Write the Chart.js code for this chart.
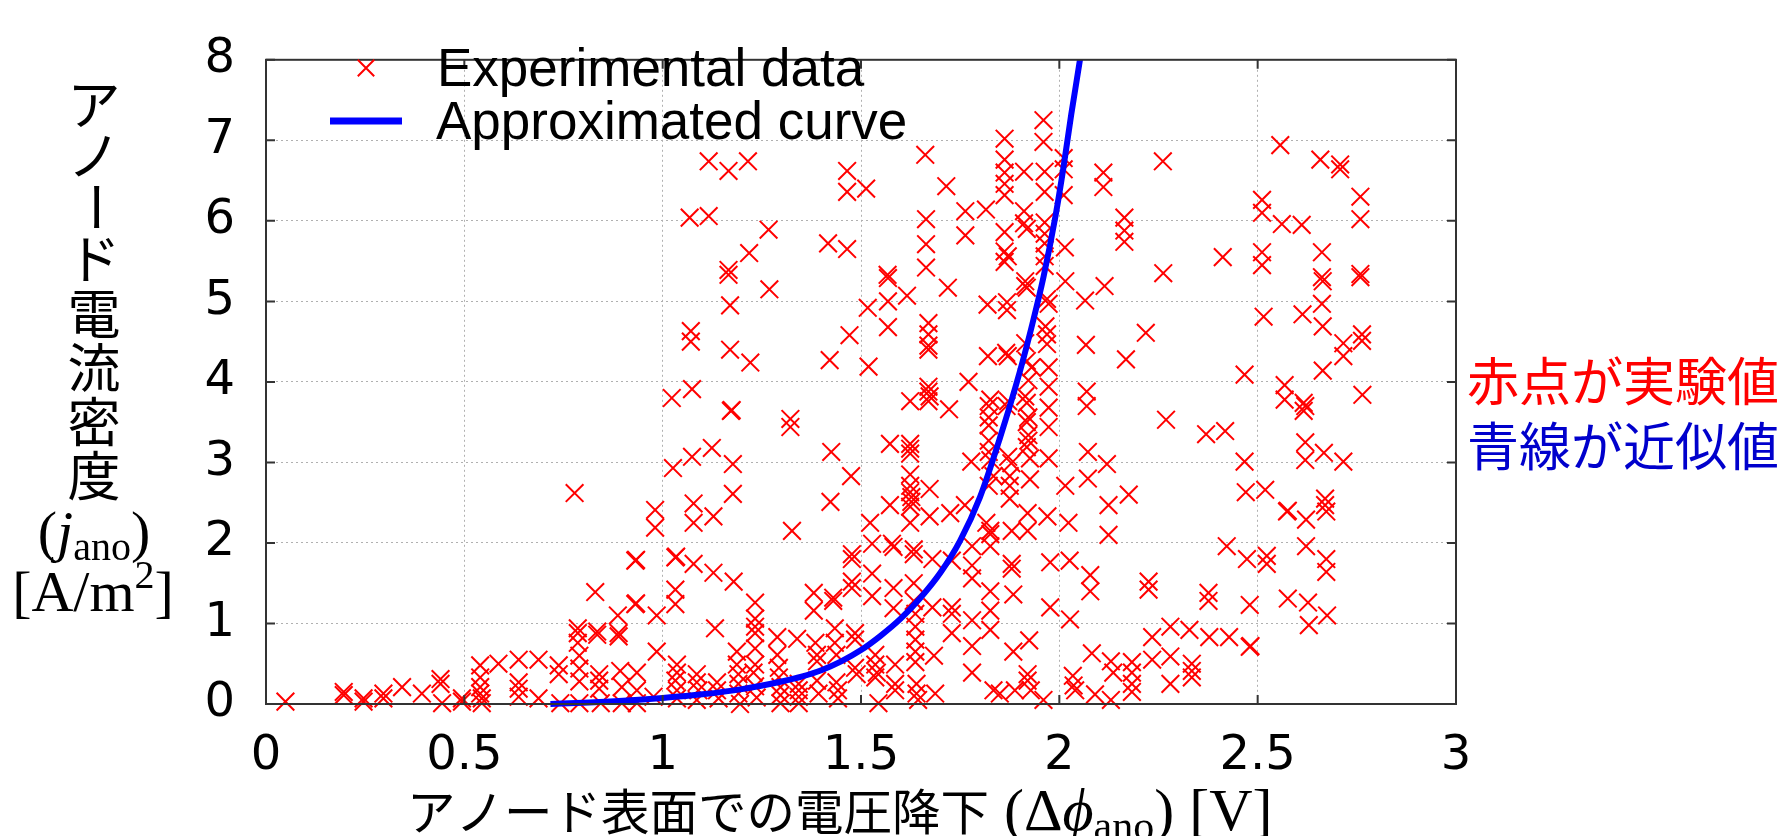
<!DOCTYPE html>
<html><head><meta charset="utf-8">
<script src="https://cdn.jsdelivr.net/npm/chart.js@4.4.1/dist/chart.umd.min.js"></script>
<style>html,body{margin:0;padding:0;background:#fff;overflow:hidden}canvas{display:block}</style>
</head><body>
<canvas id="c" width="1789" height="836"></canvas>
<script>
// ---------------- DATA ----------------
// Experimental data: [Δφ_ano (V), j_ano (A/m²)]
const expTop = [
 [1.116,6.74],[1.166,6.62],[1.215,6.74],[1.068,6.04],[1.116,6.06],[1.267,5.89],[1.218,5.60],[1.166,5.39],[1.166,5.33],
 [1.465,6.62],[1.465,6.36],[1.513,6.40],[1.417,5.72],[1.465,5.65],[1.567,5.33],
 [1.662,6.82],[1.664,6.02],[1.664,5.71],[1.664,5.42],[1.715,6.43],[1.763,6.12],[1.815,6.14],[1.763,5.82],
 [1.862,7.02],[1.862,6.76],[1.862,6.60],[1.862,6.46],[1.862,6.32],
 [1.911,6.61],[1.963,6.61],[1.963,6.36],[1.911,6.12],[1.911,5.97],[1.918,5.90],
 [1.862,5.86],[1.862,5.62],[1.870,5.56],[1.862,5.49],
 [1.963,5.98],[1.963,5.84],[1.963,5.72],[1.963,5.56],[1.963,5.44],[1.960,7.25],[1.960,6.98],
 [2.011,6.78],[2.011,6.64],[2.011,6.32],[2.111,6.60],[2.111,6.42],[2.261,6.74],[2.164,6.04],[2.164,5.88],[2.164,5.74],
 [2.014,5.67],[2.412,5.55],[2.262,5.35],[2.557,6.94],[2.658,6.76],[2.708,6.70],[2.708,6.64],[2.759,6.30],[2.759,6.02],
 [2.511,6.26],[2.511,6.10],[2.561,5.96],[2.611,5.95],[2.511,5.61],[2.511,5.45],[2.662,5.61],[2.662,5.30],[2.759,5.34],[2.759,5.30]
];
const expUpper = [
 [1.269,5.15],[1.170,4.95],[1.071,4.63],[1.071,4.50],[1.170,4.40],[1.221,4.24],[1.023,3.80],[1.074,3.91],[1.172,3.64],[1.174,3.65],
 [1.322,3.54],[1.322,3.44],[1.124,3.18],[1.074,3.07],[1.026,2.93],[1.177,2.98],[1.177,2.61],[1.078,2.49],[1.425,3.13],[1.475,2.83],
 [1.423,2.51],[1.471,4.58],[1.421,4.27],[1.517,4.92],[1.519,4.19],[1.568,5.29],[1.568,5.00],[1.568,4.68],[1.616,5.07],[1.719,5.17],
 [1.670,4.73],[1.670,4.59],[1.670,4.45],[1.670,4.40],[1.624,3.76],[1.670,3.94],[1.670,3.88],[1.673,3.82],[1.670,3.76],[1.722,3.66],
 [1.771,4.00],[1.573,3.23],[1.624,3.23],[1.624,3.17],[1.624,3.11],[1.624,2.85],[1.624,2.71],[1.624,2.63],[1.627,2.57],[1.627,2.51],
 [1.624,2.45],[1.673,2.67],[1.573,2.47],[1.778,3.01],[1.819,4.96],[1.868,4.99],[1.868,4.89],[1.914,5.25],[1.914,5.19],[1.918,5.17],
 [1.820,4.32],[1.866,4.36],[1.870,4.32],[1.914,4.48],[1.969,5.03],[1.973,4.97],[1.965,4.69],[1.969,4.59],[1.969,4.47],[1.973,4.18],
 [1.973,3.94],[1.973,3.68],[1.973,3.44],[1.973,3.05],[1.930,4.18],[1.918,4.26],[1.922,4.02],[1.914,3.82],[1.918,3.74],[1.922,3.56],
 [1.918,3.50],[1.922,3.34],[1.922,3.27],[1.918,3.19],[1.871,3.76],[1.867,3.70],[1.826,3.78],[1.822,3.70],[1.822,3.56],[1.822,3.46],
 [1.822,3.27],[1.822,3.13],[1.826,3.03],[1.871,3.07],[1.879,2.99],[1.875,2.83],[1.875,2.71],[1.875,2.55],[1.834,2.83],[1.822,2.71],
 [1.926,2.79],[1.926,3.05],[2.015,2.71],[2.015,5.25],
 [2.065,5.01],[2.114,5.19],[2.218,4.61],[2.067,4.46],[2.168,4.28],[2.069,3.88],[2.069,3.70],[2.269,3.53],[2.370,3.35],[2.418,3.39],
 [2.467,4.09],[2.515,4.81],[2.613,4.84],[2.664,5.25],[2.662,4.97],[2.664,4.69],[2.716,4.48],[2.716,4.32],[2.763,4.59],[2.763,4.51],
 [2.664,4.14],[2.568,3.96],[2.568,3.78],[2.616,3.74],[2.620,3.70],[2.616,3.64],[2.764,3.84],[2.620,3.25],[2.620,3.03],[2.667,3.12],
 [2.716,3.01],[2.467,3.01],[2.470,2.63],[2.519,2.66],[2.072,3.13],[2.120,2.98],[2.072,2.80],[2.175,2.60],[2.124,2.47],[2.670,2.55],[2.670,2.47]
];
const expRight = [
 [2.023,2.25],[2.124,2.10],[2.574,2.39],[2.576,2.40],[2.622,2.29],[2.673,2.39],[2.026,1.78],[2.078,1.60],[2.078,1.40],[2.225,1.52],
 [2.225,1.42],[2.422,1.96],[2.473,1.80],[2.523,1.84],[2.523,1.74],[2.622,1.96],[2.673,1.80],[2.673,1.64],[2.376,1.38],[2.376,1.28],
 [2.480,1.23],[2.576,1.31],[2.627,1.26],[2.675,1.10],[2.629,0.98],[2.027,1.05],[2.234,0.83],[2.280,0.96],[2.328,0.92],[2.378,0.83],
 [2.428,0.83],[2.480,0.71],[2.482,0.72],[2.082,0.63],[2.130,0.53],[2.136,0.39],[2.183,0.52],[2.183,0.39],[2.183,0.25],[2.183,0.15],
 [2.234,0.55],[2.280,0.59],[2.334,0.50],[2.334,0.41],[2.334,0.33],[2.280,0.25],[2.034,0.35],[2.036,0.23],[2.040,0.17],[2.090,0.12],[2.130,0.05]
];
const expCentre = [
 [1.078,2.25],[0.981,2.41],[0.981,2.19],[1.128,2.33],[1.326,2.15],[1.624,2.25],[1.673,2.33],[1.725,2.37],[1.762,2.47],[1.816,2.25],
 [1.826,2.15],[1.920,2.37],[1.920,2.15],[1.970,2.33],[1.523,2.25],
 [1.032,1.82],[1.034,1.83],[1.078,1.74],[1.128,1.63],[1.179,1.52],[1.032,1.42],[1.032,1.24],[1.132,0.94],[1.233,1.26],[1.233,1.06],
 [1.233,0.96],[1.233,0.88],[1.477,1.86],[1.477,1.80],[1.477,1.52],[1.477,1.44],[1.381,1.38],[1.381,1.16],[1.430,1.32],[1.430,1.28],
 [1.528,1.99],[1.528,1.62],[1.528,1.34],[1.578,1.99],[1.582,1.95],[1.582,1.44],[1.582,1.19],
 [1.633,1.92],[1.633,1.86],[1.633,1.50],[1.633,1.28],[1.637,1.12],[1.637,0.96],[1.637,0.80],[1.637,0.65],[1.637,0.52],
 [1.680,1.80],[1.680,1.20],[1.684,0.60],[1.729,1.78],[1.729,1.20],[1.729,1.12],[1.729,0.88],
 [1.780,1.96],[1.780,1.72],[1.780,1.56],[1.780,1.04],[1.780,0.72],[1.780,0.39],
 [1.826,2.11],[1.826,1.96],[1.826,1.40],[1.826,1.16],[1.826,0.92],[1.834,0.17],
 [1.880,2.15],[1.880,1.74],[1.880,1.68],[1.884,1.36],[1.884,0.65],[1.888,0.17],
 [1.924,0.79],[1.920,0.37],[1.920,0.29],[1.928,0.17],[1.977,1.76],[1.977,1.20],[1.960,0.05],
 [0.985,0.65],[0.985,1.10],
 [1.036,0.49],[1.036,0.39],[1.032,0.29],[1.036,0.17],[1.036,0.07],
 [1.086,0.37],[1.086,0.27],[1.090,0.17],[1.086,0.05],
 [1.137,0.27],[1.137,0.17],[1.141,0.07],
 [1.187,0.65],[1.187,0.49],[1.191,0.37],[1.191,0.25],[1.191,0.13],[1.195,0.00],
 [1.233,0.69],[1.233,0.49],[1.229,0.39],[1.233,0.22],[1.237,0.08],
 [1.289,0.83],[1.289,0.61],[1.293,0.45],[1.293,0.33],[1.297,0.21],[1.297,0.11],[1.297,0.01],
 [1.339,0.81],[1.343,0.25],[1.343,0.17],[1.343,0.09],[1.343,0.01],
 [1.385,0.76],[1.389,0.61],[1.389,0.53],[1.389,0.29],[1.393,0.13],
 [1.434,0.94],[1.434,0.76],[1.438,0.61],[1.438,0.27],[1.442,0.17],[1.442,0.07],
 [1.485,0.88],[1.485,0.80],[1.485,0.45],[1.489,0.37],
 [1.536,0.61],[1.536,0.49],[1.540,0.39],[1.544,0.01],[1.536,0.33],
 [1.586,0.49],[1.586,0.25],[1.586,0.17],[1.640,0.25],[1.640,0.13],[1.644,0.05],[1.687,0.13],[1.850,0.13]
];
const expLeft = [
 [0.049,0.03],[0.196,0.15],[0.196,0.11],[0.246,0.07],[0.246,0.03],[0.296,0.13],[0.296,0.07],[0.343,0.21],[0.393,0.13],[0.440,0.31],
 [0.440,0.25],[0.444,0.01],[0.494,0.07],[0.494,0.03],[0.540,0.48],[0.540,0.33],[0.540,0.21],[0.540,0.13],[0.544,0.07],[0.544,0.01],
 [0.586,0.50],[0.637,0.55],[0.687,0.55],[0.637,0.27],[0.637,0.19],[0.637,0.09],[0.687,0.07],[0.738,0.48],[0.738,0.37],[0.742,0.01],
 [0.786,0.94],[0.786,0.88],[0.786,0.76],[0.790,0.60],[0.790,0.44],[0.790,0.28],[0.790,0.01],[0.835,0.90],[0.835,0.86],[0.840,0.37],
 [0.840,0.29],[0.840,0.19],[0.844,0.01],[0.889,0.88],[0.889,0.84],[0.893,0.41],[0.897,0.21],[0.897,0.01],[0.830,1.39],[0.887,1.10],
 [0.931,1.78],[0.933,1.79],[0.931,1.24],[0.933,1.25],[0.935,0.39],[0.935,0.17],[0.935,0.01],[0.977,0.09],[0.778,2.62]
];
// Approximated curve
const curvePhi = [0.717,0.80,0.90,1.00,1.10,1.20,1.30,1.35,1.40,1.45,1.50,1.55,1.60,1.65,1.70,1.75,1.80,1.85,1.90,1.93,1.96,1.99,2.01,2.03,2.052,2.065];
const curveJ   = [0.000,0.015,0.040,0.075,0.120,0.185,0.280,0.340,0.420,0.530,0.670,0.850,1.060,1.320,1.630,2.030,2.570,3.300,4.120,4.680,5.300,6.050,6.650,7.320,8.000,8.450];
// Axes
const xTickValues = [0,0.5,1,1.5,2,2.5,3];
const xTickLabels = ['0','0.5','1','1.5','2','2.5','3'];
const yTickValues = [0,1,2,3,4,5,6,7,8];
const yTickLabels = ['0','1','2','3','4','5','6','7','8'];
const legendLabels = ['Experimental data','Approximated curve'];
const xTitleJa = 'アノード表面での電圧降下';
const yTitleChars = ['ア','ノ','ー','ド','電','流','密','度'];
const noteLines = ['赤点が実験値','青線が近似値'];

// ---------------- CHART ----------------
const expAll = [].concat(expTop, expUpper, expRight, expCentre, expLeft).map(p=>({x:p[0],y:p[1]}));
const curveData = curvePhi.map((x,i)=>({x:x,y:curveJ[i]}));
const RED='#ff0000', BLUE='#0000ff', NOTEBLUE='#0000cc';
const SANS='"Liberation Sans", Arial, sans-serif';
const TICKF='"DejaVu Sans", sans-serif';
const SERIF='"Liberation Serif", "DejaVu Serif", serif';
const CJK='"Noto Sans CJK JP", sans-serif';

function segs(ctx, list, x, y, align){
  let w=0; list.forEach(s=>{ctx.font=s.f; w+=ctx.measureText(s.t).width;});
  let cx = align==='center' ? x-w/2 : x;
  ctx.textAlign='left';
  list.forEach(s=>{ctx.font=s.f; ctx.fillText(s.t, cx, y+(s.dy||0)); cx+=ctx.measureText(s.t).width;});
  return cx;
}

const deco = {
  id:'deco',
  afterDatasetsDraw(chart){
    const {ctx, chartArea:a, scales:{x,y}} = chart;
    ctx.save();
    ctx.strokeStyle='#333'; ctx.lineWidth=2;
    ctx.strokeRect(a.left, a.top, a.right-a.left, a.bottom-a.top);
    ctx.beginPath();
    xTickValues.forEach(v=>{const p=x.getPixelForValue(v); ctx.moveTo(p,a.bottom); ctx.lineTo(p,a.bottom-9); ctx.moveTo(p,a.top); ctx.lineTo(p,a.top+9);});
    yTickValues.forEach(v=>{const p=y.getPixelForValue(v); ctx.moveTo(a.left,p); ctx.lineTo(a.left+9,p); ctx.moveTo(a.right,p); ctx.lineTo(a.right-9,p);});
    ctx.stroke();
    ctx.restore();
  },
  afterDraw(chart){
    const ctx = chart.ctx;
    ctx.save();
    // legend
    ctx.strokeStyle=RED; ctx.lineWidth=2;
    const lx=366, ly=68, o=8.2;
    ctx.beginPath(); ctx.moveTo(lx-o,ly-o); ctx.lineTo(lx+o,ly+o); ctx.moveTo(lx+o,ly-o); ctx.lineTo(lx-o,ly+o); ctx.stroke();
    ctx.strokeStyle=BLUE; ctx.lineWidth=7;
    ctx.beginPath(); ctx.moveTo(330,121); ctx.lineTo(402,121); ctx.stroke();
    ctx.fillStyle='#000'; ctx.font='53px '+SANS; ctx.textAlign='left'; ctx.textBaseline='alphabetic';
    ctx.fillText(legendLabels[0], 437, 86);
    ctx.fillText(legendLabels[1], 436, 139);
    // y title (vertical)
    ctx.font='53px '+CJK; ctx.textAlign='center'; ctx.textBaseline='middle';
    const yPos=[105,156,207,259,314,368,422,476];
    yTitleChars.forEach((c,i)=>{
      if(c==='ー'){ ctx.save(); ctx.translate(96,yPos[i]); ctx.rotate(Math.PI/2); ctx.fillText(c,0,0); ctx.restore(); }
      else ctx.fillText(c,94,yPos[i]);
    });
    ctx.textBaseline='alphabetic';
    segs(ctx,[{t:'(',f:'58px '+SERIF},{t:'j',f:'italic 58px '+SERIF},{t:'ano',f:'40px '+SERIF,dy:9},{t:')',f:'58px '+SERIF}],94,551,'center');
    segs(ctx,[{t:'[A/m',f:'58px '+SERIF},{t:'2',f:'40px '+SERIF,dy:-23},{t:']',f:'58px '+SERIF}],93,611,'center');
    // x title
    let cx = segs(ctx,[{t:xTitleJa,f:'48.5px '+CJK}],407,830,'left');
    segs(ctx,[{t:' (Δ',f:'60px '+SERIF},{t:'ϕ',f:'italic 60px '+SERIF},{t:'ano',f:'42px '+SERIF,dy:10},{t:') [V]',f:'60px '+SERIF}],cx,830,'left');
    // side notes
    ctx.font='52px '+CJK; ctx.textAlign='left';
    ctx.fillStyle=RED; ctx.fillText(noteLines[0],1467,401);
    ctx.fillStyle=NOTEBLUE; ctx.fillText(noteLines[1],1467,466);
    ctx.restore();
  }
};

new Chart(document.getElementById('c').getContext('2d'), {
  type:'scatter',
  data:{datasets:[
    {type:'line', label:legendLabels[1], data:curveData, borderColor:BLUE, borderWidth:6, pointRadius:0,
     fill:false, cubicInterpolationMode:'monotone', order:0, clip:{left:10,right:10,bottom:10,top:0}},
    {label:legendLabels[0], data:expAll, pointStyle:'crossRot', pointRadius:12.5, pointHoverRadius:12.5,
     borderColor:RED, backgroundColor:RED, pointBorderWidth:2, borderWidth:2, order:1, clip:false}
  ]},
  options:{
    responsive:false, animation:false, devicePixelRatio:1,
    layout:{padding:{left:0, top:32, right:333, bottom:0}},
    plugins:{legend:{display:false}, tooltip:{enabled:false}},
    scales:{
      x:{type:'linear', min:0, max:3,
         afterBuildTicks:s=>{s.ticks = xTickValues.map(v=>({value:v}));},
         ticks:{callback:(v,i)=>xTickLabels[i], font:{family:TICKF, size:48}, color:'#000', padding:24, maxRotation:0, autoSkip:false},
         grid:{color:'#b0b0b0', lineWidth:1, drawTicks:false}, border:{display:false, dash:[2,3]},
         afterFit:s=>{s.height=132;}},
      y:{type:'linear', min:0, max:8,
         afterBuildTicks:s=>{s.ticks = yTickValues.map(v=>({value:v}));},
         ticks:{callback:(v,i)=>yTickLabels[i], font:{family:TICKF, size:48}, color:'#000', padding:31, autoSkip:false},
         grid:{color:'#b0b0b0', lineWidth:1, drawTicks:false}, border:{display:false, dash:[2,3]},
         afterFit:s=>{s.width=266;}}
    }
  },
  plugins:[deco]
});
</script>
</body></html>
